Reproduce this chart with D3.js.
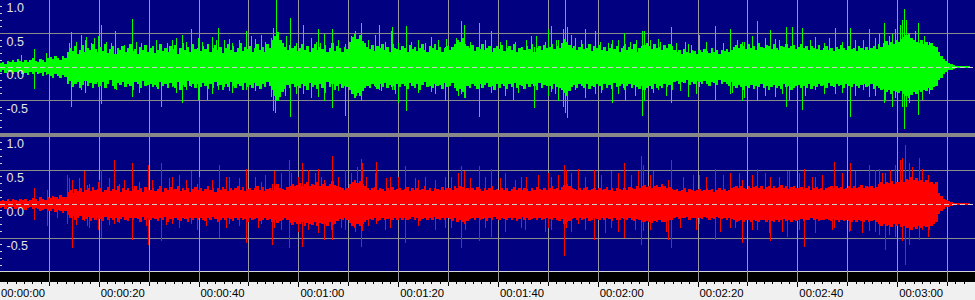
<!DOCTYPE html>
<html lang='en'>
<head>
  <meta charset='UTF-8'>
  <title>Waveform</title>
  <style>
  body { margin: 0; background: #f0f0f0; overflow: hidden; }
  .ylab { font-family: 'Liberation Sans Narrow', 'Liberation Sans', Arial, sans-serif; font-size: 12.5px; fill: #e4e4e4; }
  .tlab { font-family: 'Liberation Sans', Arial, sans-serif; font-size: 11.3px; fill: #000; }
  </style>
  <script src='https://cdn.jsdelivr.net/npm/d3@7'></script>
</head>
<body>
  <script>

  // envelope every 0.5 s, in hundredths of full scale (one row = 10 s)
  var greenTop = [
    6,8,5,9,7,10,8,12,9,7,11,8,10,13,9,7,12,10,8,14,
    15,12,17,13,11,16,14,22,28,24,31,20,26,33,22,29,25,34,27,23,
    30,24,35,21,27,32,19,28,25,31,22,29,34,24,27,20,30,26,33,23,
    28,32,21,26,35,24,29,22,31,27,33,20,28,36,25,30,23,34,27,29,
    24,31,27,35,22,28,33,25,30,21,29,34,26,31,23,28,36,24,30,27,
    32,22,28,34,25,30,23,35,29,40,46,52,41,36,30,25,33,28,31,24,
    29,35,26,31,22,28,34,25,30,27,33,23,29,36,24,31,28,22,30,27,
    38,45,50,42,48,39,36,30,27,33,24,31,28,35,26,30,23,34,29,27,
    25,31,28,22,33,27,30,24,29,35,26,23,31,28,34,25,30,22,28,32,
    26,30,35,40,37,43,34,31,28,33,24,30,27,35,25,29,32,23,28,31,
    27,33,24,29,31,26,35,22,28,30,25,32,27,34,23,29,31,26,33,28,
    30,35,27,32,29,36,42,38,33,28,31,25,30,34,27,29,35,24,31,28,
    33,26,30,24,29,35,27,31,22,28,32,25,30,27,34,23,29,31,33,36,
    31,27,34,28,30,25,33,29,35,31,26,22,25,20,27,23,21,26,24,19,
    25,22,27,24,21,28,23,26,20,25,24,27,22,26,30,33,28,35,31,27,
    34,29,32,26,36,30,28,33,31,27,35,29,26,32,30,34,28,31,33,27,
    30,35,28,32,26,31,29,27,33,25,28,31,26,29,24,30,27,33,28,25,
    31,27,29,24,32,28,26,30,25,29,31,27,34,30,36,39,33,37,35,40,
    38,42,45,48,50,44,41,38,36,40,35,37,33,36,32,30,22,17,12,9,
    6,4,3,2,1,1,1,1,1,1
  ];

  var greenBottom = [
    7,5,9,6,8,11,7,9,6,10,9,12,8,10,7,11,9,13,8,10,
    13,16,11,14,17,12,15,25,21,30,26,23,32,27,21,28,24,31,26,22,
    28,23,31,26,20,29,33,24,27,22,30,25,28,35,23,26,31,21,29,27,
    25,30,27,33,22,29,26,32,24,28,31,23,34,27,30,21,28,25,32,26,
    30,24,28,33,26,31,22,29,27,34,25,30,23,28,32,26,29,35,24,30,
    27,31,24,29,33,26,30,22,28,34,44,50,45,38,33,27,31,25,30,28,
    32,26,29,35,24,30,27,33,25,31,28,23,30,26,34,29,25,32,28,30,
    34,41,47,39,44,36,32,28,31,25,29,33,26,30,24,32,27,29,35,26,
    30,25,29,33,24,28,31,26,35,27,23,30,28,32,25,29,27,33,24,30,
    29,24,31,36,33,38,30,28,32,26,29,33,25,31,27,24,30,28,34,26,
    31,25,28,33,26,30,24,32,27,29,33,25,30,26,28,34,24,31,27,29,
    28,33,26,30,31,34,39,44,36,30,27,32,26,29,31,25,33,28,30,26,
    29,34,25,31,27,33,24,30,28,26,32,29,25,31,27,30,33,28,35,31,
    29,33,26,31,28,32,25,30,27,34,23,21,26,22,24,20,27,23,25,21,
    23,26,21,25,28,22,24,27,20,26,22,25,28,23,29,32,27,30,34,28,
    31,27,33,29,30,26,32,28,35,30,27,31,29,33,26,30,28,34,31,29,
    27,32,29,31,26,33,28,30,25,29,27,31,24,28,30,26,29,27,32,25,
    28,30,26,29,31,27,25,30,28,26,33,29,31,35,33,38,34,40,36,37,
    39,36,41,44,47,42,38,40,35,37,34,36,32,35,30,28,20,16,11,8,
    5,4,3,2,1,1,1,1,1,1
  ];

  var redTop = [
    5,6,4,7,5,8,6,5,7,6,8,5,6,9,7,5,10,8,6,11,
    9,12,10,8,13,11,10,18,20,16,22,19,24,17,21,23,19,25,20,22,
    23,18,21,25,19,22,20,26,18,23,21,24,19,22,27,20,23,18,25,21,
    20,24,19,22,26,18,23,21,25,20,22,27,19,23,21,24,18,22,25,20,
    23,19,22,26,20,24,18,23,21,25,22,19,24,20,23,27,21,25,19,22,
    24,20,23,26,21,25,19,22,24,21,26,29,24,22,20,25,27,30,26,28,
    31,27,29,33,26,30,28,32,27,29,31,26,30,34,28,27,25,23,21,24,
    29,33,36,31,34,30,27,24,21,23,25,20,24,22,19,23,21,25,20,22,
    23,20,22,25,19,23,21,24,20,22,26,21,23,19,24,22,20,25,21,23,
    24,20,26,23,27,25,22,24,21,23,20,25,22,19,24,21,23,26,20,22,
    21,24,20,23,19,22,25,21,23,20,24,22,19,23,21,25,22,20,24,21,
    23,26,22,24,21,25,28,30,26,23,22,20,24,21,23,25,20,22,24,21,
    23,20,22,25,21,24,19,23,22,20,24,21,25,23,22,26,24,27,28,25,
    27,24,26,28,25,29,26,23,25,22,20,22,19,21,23,18,22,20,19,21,
    22,19,21,23,20,22,18,21,23,20,22,19,21,24,25,27,23,26,24,22,
    26,23,25,27,24,26,22,25,27,24,26,23,25,28,24,26,22,25,27,24,
    23,25,22,24,26,21,23,25,22,24,21,23,25,27,24,26,23,25,22,24,
    26,24,27,23,25,28,24,26,25,27,23,25,30,32,29,33,31,34,30,33,
    32,35,33,37,36,39,35,38,34,36,33,35,31,33,30,32,16,12,8,6,
    4,3,2,2,1,1,1,1,1,1
  ];

  var redBottom = [
    6,5,7,4,6,5,8,6,5,7,9,6,5,8,6,7,11,9,7,10,
    10,8,12,9,11,13,10,16,21,18,23,20,17,24,22,19,25,21,23,20,
    22,25,19,23,21,24,20,26,22,19,23,25,21,24,20,22,26,19,23,21,
    24,20,22,25,21,23,19,26,22,24,20,23,25,21,22,26,20,24,21,23,
    20,23,25,21,24,19,22,26,23,21,24,20,22,25,21,23,20,24,22,26,
    21,24,22,20,25,23,21,24,22,26,24,28,25,23,21,24,28,31,27,29,
    30,26,32,28,29,31,27,33,28,30,29,32,27,31,29,25,22,24,20,23,
    28,32,35,30,33,29,26,23,22,24,20,25,23,21,24,22,20,23,21,24,
    21,23,20,24,22,19,23,21,25,22,20,24,21,23,19,22,24,20,23,21,
    22,25,21,26,24,27,23,25,22,20,23,21,24,22,20,25,21,23,19,22,
    23,20,22,24,21,23,20,25,22,19,23,21,24,22,20,23,21,24,22,20,
    22,24,21,23,25,22,29,27,25,22,21,23,20,24,22,21,25,23,20,22,
    24,21,23,20,22,25,21,24,23,20,22,24,21,23,25,22,24,26,27,25,
    26,28,25,27,24,26,27,25,23,24,21,19,22,20,21,19,23,21,20,22,
    20,22,19,21,23,20,22,19,21,22,20,23,21,22,24,26,25,23,26,24,
    24,26,23,25,27,24,23,26,24,25,27,23,26,24,22,25,23,26,24,25,
    24,22,25,23,24,21,24,22,25,23,24,22,23,25,22,24,26,23,25,24,
    25,27,24,26,23,25,26,24,27,25,24,26,30,33,29,32,31,34,30,33,
    30,34,32,36,35,38,34,37,33,35,32,34,30,32,29,27,15,11,8,5,
    4,3,2,2,1,1,1,1,1,1
  ];

  // isolated peaks: [seconds, positive peak, negative peak]
  var greenSpikes = [
    [4.4,0.18,0.10],[7,0.27,0.33],[9.4,0.21,0.12],[10,0.22,0.30],[14.4,0.52,0.59],
    [16.4,0.48,0.34],[17.4,0.45,0.20],[19.8,0.46,0.30],[20.4,0.63,0.55],[23.2,0.53,0.30],
    [24.4,0.31,0.25],[26.6,0.72,0.45],[30,0.46,0.33],[31.4,0.40,0.30],[32.4,0.30,0.59],
    [34.6,0.40,0.30],[36.6,0.48,0.54],[38.4,0.57,0.30],[39.8,0.43,0.49],[41.6,0.30,0.49],
    [42.6,0.45,0.30],[43.8,0.58,0.35],[45,0.40,0.30],[46,0.42,0.36],[49.6,0.54,0.35],
    [51.4,0.42,0.30],[52.6,0.48,0.33],[54.6,0.43,0.45],[55,0.58,0.66],[55.4,0.40,0.68],
    [55.6,1.0,0.50],[58.4,0.73,0.74],[61,0.63,0.40],[64,0.56,0.45],[65.2,0.50,0.51],
    [66.8,0.56,0.61],[69.4,0.35,0.73],[71.2,0.45,0.42],[72.6,0.66,0.50],[75.4,0.48,0.30],
    [76.2,0.62,0.35],[78.6,0.53,0.30],[78.8,0.60,0.35],[80,0.30,0.54],[81.6,0.61,0.65],
    [84,0.40,0.35],[86.6,0.45,0.38],[89.4,0.30,0.50],[89.6,0.42,0.30],[92.6,0.68,0.40],
    [93.2,0.63,0.46],[96.2,0.66,0.74],[98.6,0.53,0.30],[101.6,0.41,0.30],[103,0.30,0.49],
    [107.2,0.30,0.61],[107.6,0.46,0.35],[110,0.56,0.30],[110.6,0.61,0.38],[112,0.40,0.51],
    [113,0.56,0.60],[113.4,1.0,0.69],[113.8,0.60,0.76],[115.4,0.43,0.35],[117.4,0.56,0.35],
    [119.4,0.53,0.40],[122.8,0.40,0.54],[125.2,0.51,0.35],[125.4,0.35,0.51],[128.8,0.53,0.73],
    [129.2,0.54,0.51],[132,0.42,0.35],[134.6,0.60,0.54],[138,0.35,0.45],[140.2,0.48,0.30],
    [143.4,0.61,0.49],[146.6,0.57,0.41],[149,0.37,0.51],[152,0.68,0.51],[154.6,0.55,0.30],
    [155.6,0.42,0.45],[157.8,0.60,0.59],[159,0.60,0.35],[161,0.58,0.64],[163.6,0.45,0.35],
    [167.6,0.58,0.40],[170.6,0.58,0.74],[173.2,0.40,0.35],[174.4,0.56,0.45],[177.4,0.65,0.54],
    [179,0.50,0.60],[181,0.70,0.50],[181.4,0.86,0.93],[181.8,0.70,0.59],[184.2,0.65,0.71],
    [186.4,0.38,0.40]
  ];

  // medium bars poking out of the body (0 = none on that side)
  var greenBars = [
    [14,0.36,0],[15.4,0.38,0],[17.2,0.41,0.39],[18.4,0.36,0],[19,0.43,0],[20,0,0.41],[21.4,0.38,0],
    [22.4,0.36,0],[23.4,0,0.34],[25,0.33,0],[27.4,0.38,0],[28,0,0.39],[28.4,0.36,0],[33.6,0.36,0],
    [35.4,0.43,0.39],[37.4,0.38,0.34],[40.6,0.38,0],[42.6,0,0.41],[43.4,0.41,0],[46.6,0.36,0.39],
    [48,0.41,0],[50.6,0.46,0],[51.4,0,0.36],[53.4,0.38,0],[56.6,0.41,0],[57.4,0,0.44],[57.6,0.46,0],
    [59.6,0.36,0.41],[62.6,0.43,0.46],[63.6,0.38,0],
    [64.4,0.36,0],[65.4,0,0.39],[68,0.41,0.36],[70.6,0.46,0],[71.4,0.53,0],[71.6,0,0.44],[72.6,0,0.46],
    [74,0.41,0],[76.6,0,0.36],[77.4,0.38,0],[79.4,0,0.41],[80,0.36,0],[82.6,0.38,0],[84,0,0.39],
    [85.4,0.36,0],[87.4,0,0.41],[88,0.41,0],[91.6,0.43,0],[92,0,0.44],[93.4,0,0.46],[94.4,0.38,0],
    [97.4,0.41,0],[98.6,0,0.39],[100.4,0.38,0],[101.4,0,0.44],[103.4,0.38,0],[104,0,0.39],
    [105.6,0.41,0],[106.6,0.46,0],[109.4,0.38,0],[110,0,0.44],[111.4,0,0.41],[111.6,0.41,0],
    [114.6,0.48,0],[116.6,0.41,0],[117.4,0,0.46],[120.4,0.38,0],[120.6,0,0.39],[122,0.36,0],
    [124,0.41,0.41],[126.4,0.38,0],[127.4,0,0.44],[127.6,0.41,0],
    [130.4,0.41,0],[131,0,0.39],[132.4,0.38,0],[133.6,0,0.44],[135.6,0.36,0],[136.4,0,0.36],
    [137.4,0.38,0],[138.6,0.33,0],[139.6,0,0.41],[141.6,0.38,0],[145,0.36,0],[147,0,0.39],
    [148,0.41,0],[149.4,0.38,0.46],[151,0.46,0],[153.6,0.43,0.44],[156.4,0.41,0],[157,0,0.41],
    [158.4,0,0.49],[159,0.38,0],[160,0.46,0],[161.6,0,0.44],[162.6,0.41,0],[165.4,0.36,0.41],
    [166.4,0.43,0],[169,0.38,0.39],[171.6,0.41,0.44],[175.6,0.43,0.44],[176.4,0.51,0],[177.6,0,0.49],
    [178.4,0.46,0],[179.6,0.56,0.46],[180.6,0.63,0],[181,0,0.59],[182.4,0.51,0.54],[183.6,0.53,0],
    [185,0,0.49],[185.4,0.46,0],[186.4,0,0.41]
  ];

  var redSpikes = [
    [7,0.23,0.23],[9.6,0.20,0.33],[11.6,0.10,0.21],[13.6,0.43,0.30],[14.6,0.35,0.64],
    [17,0.48,0.25],[18,0.30,0.35],[19.8,0.33,0.38],[20.4,0.50,0.50],[23,0.64,0.30],
    [26.6,0.60,0.53],[29.8,0.57,0.60],[32.4,0.60,0.55],[34.6,0.40,0.30],[38.4,0.48,0.30],
    [39.6,0.30,0.38],[44,0.57,0.50],[46,0.40,0.30],[49.6,0.52,0.58],[52.6,0.33,0.30],
    [54.8,0.30,0.60],[55.2,0.48,0.35],[58.2,0.65,0.65],[60,0.40,0.35],[60.8,0.60,0.63],
    [64,0.51,0.30],[65.2,0.35,0.53],[66.8,0.70,0.53],[69.4,0.50,0.38],[72.6,0.66,0.63],
    [72.8,0.60,0.40],[75.6,0.62,0.30],[78.4,0.40,0.35],[81.4,0.56,0.58],[84,0.35,0.30],
    [89.4,0.40,0.35],[92.6,0.56,0.65],[93.2,0.48,0.30],[96.2,0.56,0.54],[98.6,0.52,0.48],
    [101.4,0.45,0.30],[104.6,0.40,0.35],[110,0.45,0.35],[113.2,0.57,0.76],[113.6,0.50,0.35],
    [116,0.52,0.30],[119.2,0.50,0.53],[122.6,0.49,0.35],[125.2,0.60,0.50],[128.6,0.70,0.60],
    [129,0.57,0.40],[134,0.35,0.53],[134.6,0.65,0.64],[140.2,0.43,0.30],[143.4,0.52,0.53],
    [146.6,0.45,0.35],[149,0.35,0.58],[152,0.52,0.38],[154.6,0.40,0.55],[158,0.48,0.48],
    [161.4,0.52,0.63],[163.6,0.40,0.38],[167.4,0.62,0.35],[170.6,0.60,0.40],[174.4,0.57,0.40],
    [176.4,0.52,0.45],[177.6,0.45,0.68],[181,0.67,0.55],[181.6,0.87,0.90],[182.4,0.60,0.60],
    [184.4,0.68,0.53],[186.2,0.42,0.48]
  ];

  var redBars = [
    [14,0.38,0],[15.4,0,0.31],[16,0.38,0],[17.6,0.28,0.33],[20,0.35,0],[22,0.38,0.31],[24,0.30,0.28],
    [25,0.35,0],[28,0.33,0],[29.4,0,0.33],[30.6,0.35,0],[33.4,0,0.31],[34,0.38,0],[36,0.43,0.36],
    [37.4,0.35,0],[40,0.40,0],[41.4,0,0.33],[42.6,0.35,0],[45.4,0.40,0.36],[48,0.38,0.33],
    [51.4,0.40,0],[52,0,0.36],[53.4,0.43,0],[56.6,0.45,0.38],[58.6,0.45,0],[60,0,0.41],
    [62,0.50,0.38],[63.4,0.45,0],[64,0,0.43],[64.6,0.40,0],
    [66.6,0,0.38],[68,0.40,0],[68.6,0,0.36],[70.6,0.45,0],[71.4,0,0.41],[71.8,0.55,0],[73.6,0.40,0],
    [74,0,0.33],[75.4,0.45,0],[77.4,0,0.38],[77.6,0.38,0],[80,0.40,0],[81.4,0,0.36],[83.4,0.38,0],
    [84,0,0.33],[85.4,0.40,0],[87.4,0.35,0.38],[90.6,0.40,0.36],[92,0.45,0],[93.4,0,0.38],
    [94.4,0.38,0],[97.4,0.40,0.36],[100.4,0.38,0],[101.4,0,0.41],[103.4,0.35,0],[105.4,0,0.38],
    [105.6,0.40,0],[108,0.43,0],[109.4,0,0.41],[110.6,0.40,0.38],[112,0.43,0],[114.6,0.45,0.41],
    [117.4,0.40,0.38],[120.6,0.43,0],[121.4,0,0.43],[124,0.45,0.41],[126.6,0.43,0],[127.4,0,0.38],
    [128,0.48,0],
    [130.4,0.43,0.38],[131,0.48,0],[133.6,0,0.41],[137,0.40,0],[136.4,0,0.36],[139,0.43,0],
    [139.6,0,0.38],[141.6,0.40,0],[144.4,0,0.41],[145,0.43,0],[147.6,0,0.36],[148.4,0.45,0],
    [151,0.43,0.38],[153.6,0.45,0],[154.4,0,0.43],[156.4,0.40,0],[157,0,0.41],[158.4,0.48,0],
    [160.4,0.45,0.38],[163,0.40,0],[163.6,0,0.43],[165,0.43,0],[167,0,0.38],[169,0.45,0],
    [170.4,0,0.41],[171.6,0.48,0],[173,0,0.43],[175.6,0.50,0.41],[177,0.45,0],[178.4,0,0.46],
    [178.6,0.50,0],[179.6,0.57,0.48],[180.6,0.65,0],[181.6,0,0.53],[182.4,0,0.48],[183,0.55,0],
    [184.4,0,0.43],[185,0.52,0.38],[186.4,0,0.38]
  ];

  var envStep = 0.5; // seconds per envelope value
  var yTickValues = [1, 0.5, 0, -0.5];
  var yTickLabels = ['1.0', '0.5', '0.0', '-0.5'];
  var timeTicks = [0, 20, 40, 60, 80, 100, 120, 140, 160, 180];
  var timeLabels = ['00:00:00', '00:00:20', '00:00:40', '00:01:00', '00:01:20',
                    '00:01:40', '00:02:00', '00:02:20', '00:02:40', '00:03:00'];

  var W = 975, H = 300;
  var svg = d3.select('body').append('svg').attr('width', W).attr('height', H);

  var x = d3.scaleLinear().domain([0, 195]).range([-0.5, 972.5]);
  var px = function (t) { return Math.floor(x(t)) + 0.5; };
  var gridTimes = d3.range(10, 200, 10);

  svg.append('rect').attr('width', W).attr('height', H).attr('fill', '#f0f0f0');

  var panels = [
    { top: greenTop, bottom: greenBottom, spikes: greenSpikes.concat(greenBars), color: '#00ff00', y0: 0, y1: 133, range: [134, 0] },
    { top: redTop, bottom: redBottom, spikes: redSpikes.concat(redBars), color: '#ff0000', y0: 137, y1: 271, range: [272, 136] }
  ];

  // separator and bottom bands
  svg.append('rect').attr('x', 0).attr('y', 133).attr('width', W).attr('height', 4).attr('fill', '#888');
  svg.append('rect').attr('x', 0).attr('y', 271).attr('width', W).attr('height', 1).attr('fill', '#d8d8d8');
  svg.append('rect').attr('x', 0).attr('y', 272).attr('width', W).attr('height', 10).attr('fill', '#000');
  svg.selectAll('.bg').data(gridTimes).enter().append('line')
    .attr('x1', px).attr('x2', px).attr('y1', 271).attr('y2', 282)
    .attr('stroke', '#9a9aa6').attr('shape-rendering', 'crispEdges');

  panels.forEach(function (p) {
    var y = d3.scaleLinear().domain([-1, 1]).range(p.range);
    var py = function (v) { return Math.floor(y(v)) + 0.5; };
    var g = svg.append('g');

    g.append('rect').attr('x', 0).attr('y', p.y0).attr('width', W).attr('height', p.y1 - p.y0).attr('fill', '#000080');

    // grid
    g.selectAll('.hg').data([0.5, -0.5]).enter().append('line')
      .attr('x1', 0).attr('x2', W)
      .attr('y1', py).attr('y2', py)
      .attr('stroke', '#8a8a8a').attr('shape-rendering', 'crispEdges');
    g.selectAll('.vg').data(gridTimes).enter().append('line')
      .attr('x1', px).attr('x2', px)
      .attr('y1', p.y0).attr('y2', p.y1)
      .attr('stroke', '#9a9aa6').attr('shape-rendering', 'crispEdges');

    // waveform envelope
    var env = p.top.map(function (v, i) { return [i * envStep, v / 100, p.bottom[i] / 100]; });
    var area = d3.area()
      .x(function (d) { return x(d[0]); })
      .y0(function (d) { return y(-d[2]); })
      .y1(function (d) { return y(d[1]); })
      .curve(d3.curveStepAfter);
    g.append('path').datum(env).attr('d', area)
      .attr('fill', p.color).attr('shape-rendering', 'crispEdges');

    // peaks
    g.selectAll('.spk').data(p.spikes).enter().append('line')
      .attr('x1', function (d) { return px(d[0]); })
      .attr('x2', function (d) { return px(d[0]); })
      .attr('y1', function (d) { return y(d[1]); })
      .attr('y2', function (d) { return y(-d[2]); })
      .attr('stroke', p.color).attr('stroke-width', 1).attr('shape-rendering', 'crispEdges');

    // zero line
    g.append('line').attr('x1', 0).attr('x2', W).attr('y1', py(0)).attr('y2', py(0))
      .attr('stroke', '#cfcfcf').attr('stroke-dasharray', '5,3').attr('shape-rendering', 'crispEdges');

    // left minor ticks every 0.1
    var minor = d3.range(-9, 10).filter(function (k) { return k % 5 !== 0; }).map(function (k) { return k / 10; });
    g.selectAll('.mt').data(minor).enter().append('line')
      .attr('x1', 0).attr('x2', 2)
      .attr('y1', py).attr('y2', py)
      .attr('stroke', '#d0d0d0').attr('shape-rendering', 'crispEdges');

    g.selectAll('.ylab').data(yTickValues).enter().append('text')
      .attr('class', 'ylab')
      .attr('x', 6.5)
      .attr('y', function (d) { return y(d) + 12; })
      .text(function (d, i) { return yTickLabels[i]; });
  });

  // time axis ticks
  var minorTicks = d3.range(0, 121).map(function (k) { return k * 20 / 12; }).filter(function (t) { return t < 195; });
  svg.selectAll('.tt').data(minorTicks).enter().append('line')
    .attr('x1', px).attr('x2', px)
    .attr('y1', 282)
    .attr('y2', function (d, i) { return i % 12 === 0 ? 287 : (i % 6 === 0 ? 286 : 284); })
    .attr('stroke', '#000').attr('shape-rendering', 'crispEdges');

  svg.selectAll('.tlab').data(timeTicks).enter().append('text')
    .attr('class', 'tlab')
    .attr('x', function (d) { return x(d) + 1.5; })
    .attr('y', 297)
    .text(function (d, i) { return timeLabels[i]; });
  </script>
</body>
</html>
